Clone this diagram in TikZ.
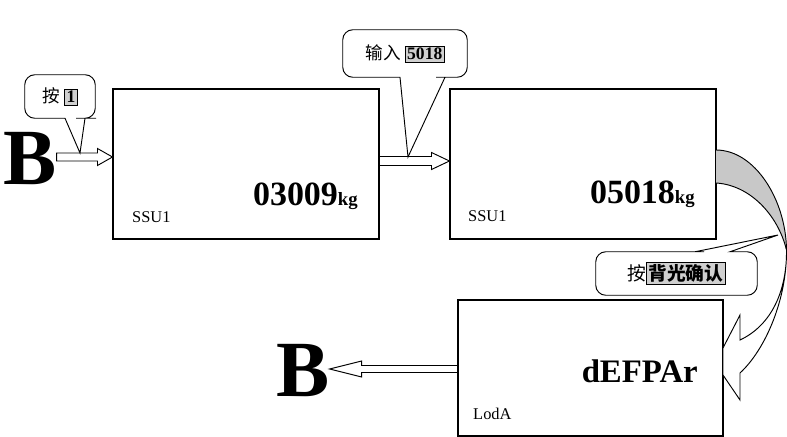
\documentclass[tikz,border=0pt]{standalone}
\usepackage{fontspec}
\setmainfont{Liberation Serif}
\newfontfamily\cjk{Noto Sans CJK SC}
\usetikzlibrary{calc}

\newcommand{\keycap}[1]{{\setlength{\fboxsep}{1.5pt}\setlength{\fboxrule}{0.4pt}\fcolorbox{black}{keygray}{#1}}}
\newcommand{\hollowarrow}[6]{%
  \draw[arrowline] ($(#1 |- 0,#3)+(0,#4)$) -- ($(#2 |- 0,#3)+({-(#6)},#4)$)
    -- ($(#2 |- 0,#3)+({-(#6)},#5)$) -- (#2 |- 0,#3)
    -- ($(#2 |- 0,#3)+({-(#6)},{-(#5)})$) -- ($(#2 |- 0,#3)+({-(#6)},{-(#4)})$)
    -- ($(#1 |- 0,#3)+(0,{-(#4)})$) -- cycle;}

\begin{document}
\begin{tikzpicture}[x=0.3mm,y=-0.3mm,
  panel/.style={draw,fill=white,line width=0.9pt,inner sep=0pt,minimum width=79.8mm,minimum height=45mm},
  bigB/.style={inner sep=0pt,anchor=base west,font=\fontsize{68}{68}\selectfont\bfseries},
  tag/.style={inner sep=0pt,anchor=base west,font=\fontsize{14}{14}\selectfont},
  reading/.style={inner sep=0pt,anchor=base east,font=\fontsize{29}{29}\selectfont\bfseries},
  bubble/.style={inner sep=0pt,font=\fontsize{15}{15}\selectfont},
  bubbleline/.style={draw,line width=0.8pt,rounded corners=3mm},
  arrowline/.style={draw,fill=white,line width=0.8pt,line join=miter}]
\definecolor{backgray}{HTML}{C8C8C8}
\definecolor{keygray}{HTML}{D0D0D0}
\useasboundingbox (0,0) rectangle (787,437);

\node[panel] (box1) at (246,164) {};
\node[panel] (box2) at (583,164) {};
\node[panel,minimum width=79.5mm,minimum height=40.8mm] (box3) at (590.5,368) {};

\node[bigB] (B1) at (3,184) {B};
\node[bigB] (B2) at (276,396) {B};

\node[tag] (tag1) at (132,222) {SSU1};
\node[tag] (tag2) at (468,221) {SSU1};
\node[tag] (tag3) at (473,419) {LodA};

\node[reading] (val1) at (358,205) {03009{\fontsize{16}{16}\selectfont kg}};
\node[reading] (val2) at (695,203) {05018{\fontsize{16}{16}\selectfont kg}};
\node[reading,font=\fontsize{28}{28}\selectfont\bfseries] (val3) at (698,382) {dEFPAr};

\hollowarrow{B1.east}{box1.west}{157}{4}{8.5}{15}
\hollowarrow{box1.east}{box2.west}{161}{4.5}{8.5}{18}
\hollowarrow{box3.west}{B2.east}{369}{3.5}{8}{-32}

\fill[backgray] (716,150) .. controls (755,150) and (786,200) .. (786.5,250)
  .. controls (778,215) and (750,185) .. (716,183) -- cycle;
\draw[line width=0.8pt] (716,150) .. controls (755,150) and (786,200) .. (786.5,250);
\draw[line width=0.8pt] (716,183) .. controls (750,185) and (778,215) .. (786.5,250);
\draw[line width=0.8pt,fill=white,line join=miter] (786.5,250) .. controls (787,300) and (765,350) .. (740,373)
  -- (740,400) -- (723,375) -- (723,348) -- (740,315) -- (740,340)
  .. controls (772,325) and (787,290) .. (786.5,250) -- cycle;

\node[bubble,minimum width=21mm,minimum height=12.9mm] (call1) at (60,96.5) {{\cjk 按} \keycap{\textbf{1}}};
\coordinate (tip1) at (80,153);
\draw[bubbleline] (call1.west) -- (call1.north west) -- (call1.north east) -- (call1.south east)
  -- ($(call1.south)+(26,0)$) [sharp corners] -- ($(call1.south)+(25,0)$) -- (tip1) -- ($(call1.south)+(5,0)$)
  -- ($(call1.south)+(4,0)$) [rounded corners=3mm] -- (call1.south west) -- cycle;

\node[bubble,minimum width=37.2mm,minimum height=14.1mm] (call2) at (405,53.5) {{\cjk 输入} \keycap{\textbf{5018}}};
\coordinate (tip2) at (408,157);
\draw[bubbleline] (call2.west) -- (call2.north west) -- (call2.north east) -- (call2.south east)
  -- ($(call2.south)+(41,0)$) [sharp corners] -- ($(call2.south)+(40,0)$) -- (tip2) -- ($(call2.south)+(-5,0)$)
  -- ($(call2.south)+(-6,0)$) [rounded corners=3mm] -- (call2.south west) -- cycle;

\node[bubble,minimum width=48.3mm,minimum height=12.9mm,font=\fontsize{16}{16}\selectfont] (call3) at (676.5,273.5) {{\cjk 按\keycap{\bfseries 背光确认}}\hspace{4mm}};
\coordinate (tip3) at (778,235);
\draw[bubbleline] (call3.west) -- (call3.north west) -- ($(call3.north)+(17.5,0)$)
  [sharp corners] -- ($(call3.north)+(18.5,0)$) -- (tip3) -- ($(call3.north)+(53.5,0)$)
  -- ($(call3.north)+(54.5,0)$) [rounded corners=3mm] -- (call3.north east) -- (call3.south east) -- (call3.south west) -- cycle;
\end{tikzpicture}
\end{document}
